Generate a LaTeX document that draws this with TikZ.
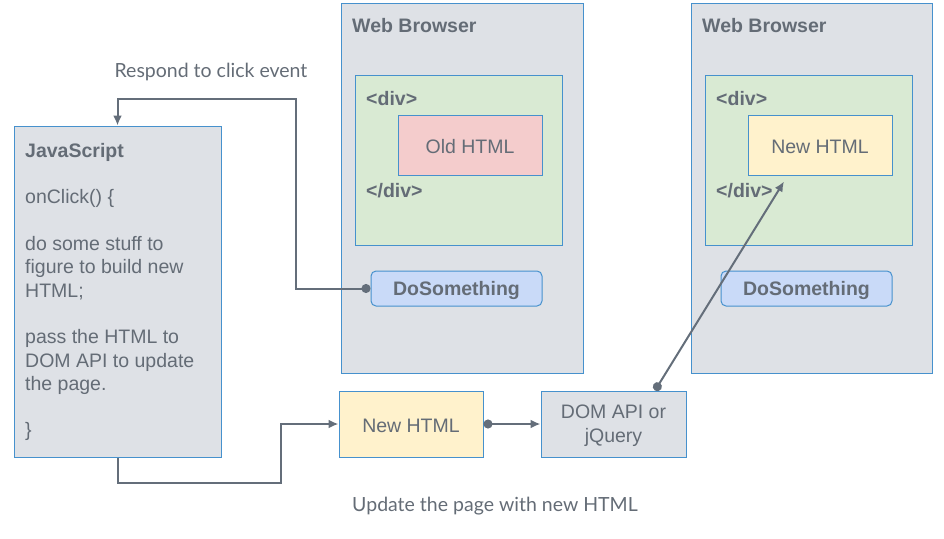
\documentclass[tikz,border=0pt]{standalone}
\usepackage{fontspec}
\setmainfont{Liberation Sans}
\newfontfamily\latofont{Lato}
\usetikzlibrary{arrows.meta,calc}
\definecolor{txt}{RGB}{100,108,118}
\definecolor{ln}{RGB}{100,110,122}
\definecolor{bd}{RGB}{70,145,205}
\definecolor{grayf}{RGB}{222,225,230}
\definecolor{greenf}{RGB}{217,234,211}
\definecolor{redf}{RGB}{244,204,204}
\definecolor{yellowf}{RGB}{255,242,204}
\definecolor{bluef}{RGB}{201,218,248}
\tikzset{
  box/.style={draw=bd, line width=1pt, rectangle, inner sep=0pt, text=txt},
  intext/.style={text=txt, inner sep=0pt, align=center, yshift=-2pt, font=\fontsize{19.5}{24}\selectfont},
  inbold/.style={intext, font=\bfseries\fontsize{19.5}{24}\selectfont},
  btn/.style={box, fill=bluef, rounded corners=5pt},
  lbl/.style={text=txt, inner sep=0pt, font=\bfseries\fontsize{19.5}{23}\selectfont},
  captext/.style={text=txt, inner sep=0pt, font=\latofont\fontsize{19.5}{23}\selectfont},
  conn/.style={draw=ln, line width=2pt},
  arr/.style={-{Latex[length=10pt,width=9pt]}},
  dotarr/.style={{Circle[length=9pt]}-{Latex[length=10pt,width=9pt]}}
}
\begin{document}
\begin{tikzpicture}[x=1pt,y=-1pt]
\useasboundingbox (0,0) rectangle (944,538);
% Browsers
\node[box, fill=grayf, minimum width=242, minimum height=370] (wb1) at (462,188) {};
\node[box, fill=grayf, minimum width=241, minimum height=370] (wb2) at (811.5,188) {};
\node[lbl, anchor=west] (wbt1) at (352,26) {Web Browser};
\node[lbl, anchor=west] (wbt2) at (702,26) {Web Browser};
% divs
\node[box, fill=greenf, minimum width=207, minimum height=170] (dv1) at (458.5,160) {};
\node[box, fill=greenf, minimum width=207, minimum height=170] (dv2) at (808.5,160) {};
\node[lbl, anchor=west] (o1) at (366,99) {<div>};
\node[lbl, anchor=west] (c1) at (366,191) {</div>};
\node[lbl, anchor=west] (o2) at (716,99) {<div>};
\node[lbl, anchor=west] (c2) at (716,191) {</div>};
\node[box, fill=redf, minimum width=144, minimum height=60,
  label={[intext]center:Old HTML}] (old) at (470,145) {};
\node[box, fill=yellowf, minimum width=144, minimum height=60,
  label={[intext]center:New HTML}] (nh2) at (820,145) {};
\node[btn, minimum width=171, minimum height=35,
  label={[inbold]center:DoSomething}] (ds1) at (456.5,288.5) {};
\node[btn, minimum width=171, minimum height=35,
  label={[inbold]center:DoSomething}] (ds2) at (806.5,288.5) {};
% JavaScript
\node[box, fill=grayf, minimum width=207, minimum height=331] (js) at (117.5,291.5) {};
\node[anchor=north west, inner sep=0pt, text=txt, align=left, font=\fontsize{19.5}{23.3}\selectfont] (jst) at (25,143)
{\textbf{JavaScript}\\[23.3pt]
onClick() \{\\[23.3pt]
do some stuff to\\
figure to build new\\
HTML;\\[23.3pt]
pass the HTML to\\
DOM API to update\\
the page.\\[23.3pt]
\}};
% bottom
\node[box, fill=yellowf, minimum width=144, minimum height=66,
  label={[intext]center:New HTML}] (nh1) at (411,424) {};
\node[box, fill=grayf, minimum width=145, minimum height=66,
  label={[intext]center:DOM API or\\jQuery}] (dom) at (613.5,424) {};
% captions
\node[captext] (cap1) at (211,71.5) {Respond to click event};
\node[captext] (cap2) at (495,506.5) {Update the page with new HTML};
% connectors
\coordinate (b1) at (296,99);
\coordinate (b2) at (281,483);
\coordinate (dstart) at ($(dom.north)+(41.5,0)$);
\coordinate (tgt) at ($(nh2.south)+(-36,6)$);
\draw[conn, dotarr] (ds1.west) -| (b1) -| (js.north);
\draw[conn, arr] (js.south) |- (b2) |- (nh1.west);
\draw[conn, dotarr] (nh1.east) -- (dom.west);
\draw[conn, dotarr] (dstart) -- (tgt);
\end{tikzpicture}
\end{document}
